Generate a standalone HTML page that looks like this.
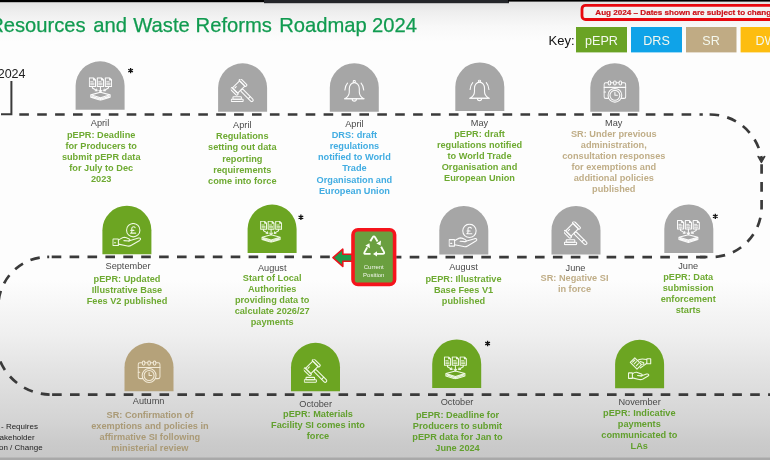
<!DOCTYPE html>
<html><head><meta charset="utf-8">
<style>
html,body{margin:0;padding:0;width:770px;height:460px;overflow:hidden;}
body{background:linear-gradient(180deg,#e2e2e2 2px,#eeeeee 12px,#f8f8f8 26px,#fdfdfd 42px,#fdfdfd 280px,#f8f8f8 300px,#efefef 335px,#e3e3e3 370px,#d4d4d4 420px,#cacaca 445px,#c8c8c8 457px);}
svg{color:#fbfbfb;position:absolute;left:0;top:0;will-change:transform;}
text{font-family:"Liberation Sans",sans-serif;}
.m{font-size:9.2px;fill:#4a4a4a;text-anchor:middle;}
.g{font-size:9.2px;font-weight:bold;fill:#6eaa32;text-anchor:middle;}
.b{font-size:9.2px;font-weight:bold;fill:#42ade2;text-anchor:middle;}
.t{font-size:9.2px;font-weight:bold;fill:#c0ae88;text-anchor:middle;}
.g3{font-size:9.2px;font-weight:bold;fill:#62a02e;text-anchor:middle;}
.t3{font-size:9.2px;font-weight:bold;fill:#aa9a76;text-anchor:middle;}
.ic{fill:none;stroke:currentColor;stroke-width:1.1;stroke-linecap:round;stroke-linejoin:round;}
</style></head>
<body>
<svg width="770" height="460" viewBox="0 0 770 460">
<defs>
  <!-- documents into tray -->
  <symbol id="docs" viewBox="0 0 23.5 23.5">
    <g class="ic">
      <path d="M0.5,0.5h4.3l2,2v6.6h-6.3z M4.8,0.5v2h2"/>
      <path d="M8.6,0.5h4.3l2,2v6.6h-6.3z M12.9,0.5v2h2"/>
      <path d="M16.7,0.5h4.3l2,2v6.6h-6.3z M21,0.5v2h2"/>
      <path d="M1.9,4.4h2.4M1.9,5.9h3.4M1.9,7.4h3.4M10,4.4h2.4M10,5.9h3.4M10,7.4h3.4M18.1,4.4h2.4M18.1,5.9h3.4M18.1,7.4h3.4" stroke-width="0.9"/>
      <path d="M3.6,9.1v1.5l4.4,2.6M11.75,9.1v5.4M19.8,9.1v1.5l-4.4,2.6"/>
      <path d="M6.4,13.4l1.9,0.1l-0.4,-1.8M10.3,13.2l1.45,1.6l1.45,-1.6M17,13.4l-1.9,0.1l0.4,-1.8"/>
      <path d="M2,17.6l9.75,-2.6l9.75,2.6l-9.75,3z M2,17.6v2.4l9.75,3.1l9.75,-3.1v-2.4 M11.75,20.6v2.5 M3.2,19.2l8.55,2.6l8.55,-2.6"/>
    </g>
  </symbol>
  <!-- gavel -->
  <symbol id="gavel" viewBox="0 0 24 24">
    <g class="ic">
      <g transform="rotate(-45 8 8.2)">
        <rect x="2.6" y="4.4" width="10.8" height="7.6" rx="0.6"/>
        <rect x="0.4" y="3.4" width="2.6" height="9.6" rx="1"/>
        <rect x="13" y="3.4" width="2.6" height="9.6" rx="1"/>
        <path d="M4.6,6.2h2"/>
        <rect x="6.5" y="12" width="3" height="16.6" rx="1.5"/>
        <path d="M6.5,23.6h3"/>
      </g>
      <rect x="2.2" y="18.2" width="8.6" height="2.4" rx="0.6"/>
      <rect x="0.4" y="20.6" width="12.2" height="2.4" rx="0.6"/>
    </g>
  </symbol>
  <!-- bell -->
  <symbol id="bell" viewBox="0 0 24 24">
    <g class="ic">
      <circle cx="12" cy="1.5" r="1.05"/>
      <path d="M2.6,18.8C4.6,17.6 7,15.5 7,12V8.6C7,5.2 9.2,2.6 12,2.6C14.8,2.6 17,5.2 17,8.6V12C17,15.5 19.4,17.6 21.4,18.8Z"/>
      <path d="M2.2,18.8H21.8"/>
      <path d="M9.9,19A2.1,2.1 0 0 0 14.1,19"/>
      <path d="M5.2,3.2Q3,5.6 2.6,10"/>
      <path d="M18.8,3.2Q21,5.6 21.4,10"/>
    </g>
  </symbol>
  <!-- calendar with clock -->
  <symbol id="cal" viewBox="0 0 24 24">
    <g class="ic">
      <path d="M5,2.6H2.6Q0.8,2.6 0.8,4.4V17Q0.8,18.8 2.6,18.8H5.4M18.6,18.8H21.4Q23.2,18.8 23.2,17V4.4Q23.2,2.6 21.4,2.6H19.4"/>
      <path d="M0.8,7.4H23.2"/>
      <ellipse cx="6.4" cy="2.8" rx="1.4" ry="2.2"/>
      <ellipse cx="12" cy="2.8" rx="1.4" ry="2.2"/>
      <ellipse cx="17.6" cy="2.8" rx="1.4" ry="2.2"/>
      <path d="M7.8,2.6H10.6M13.4,2.6H16.2"/>
      <circle cx="12" cy="15.6" r="7.1"/>
      <circle cx="12" cy="15.6" r="5.1"/>
      <path d="M12,12.6V15.6H14.6"/>
      <path d="M0.8,12.2H2.4"/>
    </g>
  </symbol>
  <!-- hand with pound coin -->
  <symbol id="coin" viewBox="0 0 30 25">
    <g class="ic">
      <circle cx="21.3" cy="7.4" r="6.8"/>
      <path d="M23.2,4.8C22.8,3.6 20.4,3.4 19.9,5C19.6,6 20,7.2 20,8.2C20,9.2 19.4,10 18.6,10.4H23.8M18.8,7.6H22"/>
      <rect x="0.6" y="16.4" width="5.6" height="6.6" rx="0.4"/>
      <path d="M2.2,20.2h1.2"/>
      <path d="M6.2,17.6C8.5,16.2 10.2,14.6 12.2,14.6C14,14.8 16,15.8 17.2,16.4C18.6,17.2 18,18.6 16.6,18.4L11.8,18"/>
      <path d="M16.6,18.4L26.6,15.4C28.8,14.9 29.6,16.6 27.8,17.8L19.4,22.8C17.8,23.8 16,23.8 14.2,23.2L6.2,21.6"/>
    </g>
  </symbol>
  <!-- hands exchanging note -->
  <symbol id="hands" viewBox="0 0 24 24">
    <g class="ic">
      <path d="M2.3,5.4L6.8,0.9L13.5,7.6L9,12.1Z"/>
      <path d="M4.6,5.2L6.8,3M6.2,6.8L8.4,4.6M8.2,8.8L10.4,6.6"/>
      <rect x="18.8" y="1.8" width="3.9" height="4.9" rx="0.3"/>
      <path d="M18.8,2.5C16.4,2 13.6,1.6 11.4,2.4L9.4,3.4M12.2,4.4L15.2,5.6C16.4,6.2 15.8,7.4 14.6,7.2"/>
      <path d="M18.8,6.2L15.6,8.6L12.2,11"/>
      <rect x="0.5" y="15.9" width="3.9" height="5.5" rx="0.3"/>
      <path d="M4.4,16.8C6,15.6 7.2,15 8.6,15.3L13.4,17.1C14.8,17.7 14.4,19.1 13,18.9L9.6,18.5"/>
      <path d="M13,18.9L18.6,17.1C20.6,16.5 21.5,18 20.1,19.1L15,22C13.5,22.8 11.6,22.8 10,22.3L4.4,20.9"/>
    </g>
  </symbol>
  <!-- tombstone -->
  <path id="ts" d="M0,48.5V24.5A24.5,24.5 0 0 1 49,24.5V48.5Z"/>
</defs>

<!-- top bars -->
<rect x="0" y="0" width="265" height="2.2" fill="#000"/>
<rect x="264" y="0" width="245" height="3.2" fill="#232529"/>
<rect x="508" y="0" width="262" height="1.6" fill="#000"/>
<rect x="0" y="457.5" width="770" height="2.5" fill="#a9a9a9"/>

<!-- title -->
<g style="font-size:20.2px;fill:#119b50;stroke:#119b50;stroke-width:0.25">
<text x="-10.8" y="31.9">Resources</text><text x="93.2" y="31.9">and</text><text x="133.3" y="31.9">Waste</text><text x="195.6" y="31.9">Reforms</text><text x="279.2" y="31.9">Roadmap</text><text x="372" y="31.9">2024</text>
</g>

<!-- red notice box -->
<rect x="582" y="5.3" width="200" height="14.2" rx="3.6" fill="#f3f3f3" stroke="#e8080f" stroke-width="2.8"/>
<text x="595.3" y="15.3" style="font-size:8.1px;font-weight:bold;fill:#cc1018;stroke:#cc1018;stroke-width:0.2">Aug 2024 – Dates shown are subject to change</text>

<!-- key -->
<text x="548.6" y="45.2" style="font-size:13px;fill:#111">Key:</text>
<rect x="576" y="27" width="51" height="25.4" fill="#6aa324"/>
<rect x="631" y="27" width="51" height="25.4" fill="#0fa3e8"/>
<rect x="686" y="27" width="50.5" height="25.4" fill="#c0ab84"/>
<rect x="740.6" y="27" width="51" height="25.4" fill="#fdbd10"/>
<g style="font-size:12.6px;fill:#f4f8ee;text-anchor:middle">
<text x="601.5" y="44.8">pEPR</text>
<text x="656.5" y="44.8">DRS</text>
<text x="711" y="44.8">SR</text>
<text x="766" y="44.8">DW</text>
</g>

<!-- 2024 left marker -->
<text x="25.5" y="77.5" style="font-size:12.5px;fill:#222;text-anchor:end">2024</text>
<path d="M11.4,81V114.3H1" fill="none" stroke="#3a3a3a" stroke-width="2"/>

<!-- dashed path -->
<g fill="none" stroke="#3a3a3a" stroke-width="2.7" stroke-dasharray="9.6 8.3">
  <path d="M19.3,114.5H702.8"/>
  <path d="M709.6,114.5H710A52,52 0 0 1 761.4,158"/>
  <path d="M761.6,164.2V206.8A50.2,50.2 0 0 1 711.4,257H700"/>
  <path d="M396.2,257.1H706" stroke-dashoffset="4.4"/>
  <path d="M51.7,256.8H330.3"/>
  <path d="M47.9,256.9A49.6,49.6 0 0 0 -1.7,306.6L-4.3,339.6A55.2,55.2 0 0 0 49.6,394.6" stroke-dashoffset="9.7"/>
  <path d="M47.2,256.9H49.2" stroke-dasharray="none"/>
  <path d="M52.1,394.6H772"/>
</g>
<path d="M757.9,156.4L761.4,162.6L764.9,156.4L761.4,158.2Z" fill="#3a3a3a" stroke="#3a3a3a" stroke-width="1.2" stroke-linejoin="round"/>

<!-- Row 1 tombstones -->
<use href="#ts" x="75.6" y="61.3" fill="#a6a6a6"/>
<use href="#ts" x="218.1" y="63.3" fill="#a6a6a6"/>
<use href="#ts" x="329.8" y="63.2" fill="#a6a6a6"/>
<use href="#ts" x="455.3" y="62.5" fill="#a6a6a6"/>
<use href="#ts" x="590.3" y="63.2" fill="#a6a6a6"/>
<use href="#docs" x="88.8" y="77.3" width="23.3" height="23.5"/>
<use href="#gavel" x="230.8" y="79" width="23.5" height="23.5"/>
<use href="#bell" x="342.3" y="80" width="24" height="24"/>
<use href="#bell" x="467.5" y="79.5" width="24" height="24"/>
<use href="#cal" x="603.3" y="80.2" width="23.2" height="23.2"/>
<path d="M130.6,67.89999999999999V73.3M128.25,69.25L132.95,71.94999999999999M128.25,71.94999999999999L132.95,69.25" stroke="#111" stroke-width="1.3" fill="none"/>

<!-- Row 1 text -->
<text class="m" x="100" y="126.2">April</text>
<text class="g"><tspan x="101.2" y="138.20">pEPR: Deadline</tspan><tspan x="101.2" y="149.15">for Producers to</tspan><tspan x="101.2" y="160.10">submit pEPR data</tspan><tspan x="101.2" y="171.05">for July to Dec</tspan><tspan x="101.2" y="182.00">2023</tspan></text>
<text class="m" x="242.3" y="128">April</text>
<text class="g"><tspan x="242.3" y="139.30">Regulations</tspan><tspan x="242.3" y="150.40">setting out data</tspan><tspan x="242.3" y="161.50">reporting</tspan><tspan x="242.3" y="172.60">requirements</tspan><tspan x="242.3" y="183.70">come into force</tspan></text>
<text class="m" x="354.4" y="126.9">April</text>
<text class="b"><tspan x="354.4" y="138.00">DRS: draft</tspan><tspan x="354.4" y="149.15">regulations</tspan><tspan x="354.4" y="160.30">notified to World</tspan><tspan x="354.4" y="171.45">Trade</tspan><tspan x="354.4" y="182.60">Organisation and</tspan><tspan x="354.4" y="193.75">European Union</tspan></text>
<text class="m" x="479.5" y="126.3">May</text>
<text class="g"><tspan x="479.5" y="137.30">pEPR: draft</tspan><tspan x="479.5" y="148.30">regulations notified</tspan><tspan x="479.5" y="159.30">to World Trade</tspan><tspan x="479.5" y="170.30">Organisation and</tspan><tspan x="479.5" y="181.30">European Union</tspan></text>
<text class="m" x="613.8" y="125.8">May</text>
<text class="t"><tspan x="613.8" y="136.90">SR: Under previous</tspan><tspan x="613.8" y="147.95">administration,</tspan><tspan x="613.8" y="159.00">consultation responses</tspan><tspan x="613.8" y="170.05">for exemptions and</tspan><tspan x="613.8" y="181.10">additional policies</tspan><tspan x="613.8" y="192.15">published</tspan></text>
<!-- Row 2 tombstones -->
<use href="#ts" x="102.4" y="205.7" fill="#6ca522"/>
<use href="#ts" x="247.6" y="204.6" fill="#6ca522"/>
<use href="#ts" x="439.3" y="206" fill="#a6a6a6"/>
<use href="#ts" x="551.5" y="205.9" fill="#a6a6a6"/>
<use href="#ts" x="664.3" y="204.4" fill="#a6a6a6"/>
<use style="color:#eef8e2" href="#coin" x="112.3" y="222.9" width="29.5" height="24.6"/>
<use style="color:#eef8e2" href="#docs" x="259.7" y="220.9" width="22.8" height="21.8"/>
<use href="#coin" x="448.5" y="223.5" width="29.5" height="24.6"/>
<use href="#gavel" x="564" y="221.6" width="24" height="24"/>
<use href="#docs" x="676.8" y="220.1" width="23.2" height="22.8"/>
<path d="M300.9,214.60000000000002V220.0M298.54999999999995,215.95000000000002L303.25,218.65M298.54999999999995,218.65L303.25,215.95000000000002" stroke="#111" stroke-width="1.3" fill="none"/>
<path d="M715.3,213.70000000000002V219.1M712.9499999999999,215.05L717.65,217.75M712.9499999999999,217.75L717.65,215.05" stroke="#111" stroke-width="1.3" fill="none"/>

<!-- current position -->
<path d="M333,257.6L342.8,249.2V254.2H353V261.2H342.8V266.4Z" fill="#1f9a4a" stroke="#e8141c" stroke-width="1.6" stroke-linejoin="round"/>
<rect x="353" y="229.8" width="41.6" height="54.6" rx="5" fill="#6a9f3f" stroke="#f5141c" stroke-width="3.6"/>
<g fill="none" stroke="#fbfff6" stroke-width="1.9" stroke-linejoin="round">
  <path d="M370.3,241.3L372.6,237.4Q373.9,235.4 375.2,237.4L377.6,241.4"/>
  <path d="M370.6,253.9H365.6Q363.6,253.9 364.6,252.1L367.2,247.4"/>
  <path d="M381.1,246.8L383.8,251.6Q385,253.9 382.6,253.9H376.6"/>
</g>
<g fill="#fbfff6">
  <path d="M380.6,245.6L381,240.6L376.4,243.4Z"/>
  <path d="M369.4,243.2L370,248.2L365.4,245.6Z"/>
  <path d="M373,253.9L377,251.2V256.6Z"/>
</g>
<g style="font-size:6px;fill:#f2f7ee;text-anchor:middle">
<text x="373.8" y="268.8">Current</text>
<text x="373.8" y="277">Position</text>
</g>

<!-- Row 2 text -->
<text class="m" x="128" y="269">September</text>
<text class="g"><tspan x="127" y="281.90">pEPR: Updated</tspan><tspan x="127" y="292.80">Illustrative Base</tspan><tspan x="127" y="303.70">Fees V2 published</tspan></text>
<text class="m" x="272.2" y="271">August</text>
<text class="g"><tspan x="272.2" y="281.30">Start of Local</tspan><tspan x="272.2" y="292.30">Authorities</tspan><tspan x="272.2" y="303.30">providing data to</tspan><tspan x="272.2" y="314.30">calculate 2026/27</tspan><tspan x="272.2" y="325.30">payments</tspan></text>
<text class="m" x="463.5" y="269.6">August</text>
<text class="g"><tspan x="463.5" y="282.40">pEPR: Illustrative</tspan><tspan x="463.5" y="293.35">Base Fees V1</tspan><tspan x="463.5" y="304.30">published</tspan></text>
<text class="m" x="575.5" y="270.6">June</text>
<text class="t"><tspan x="574.5" y="281.00">SR: Negative SI</tspan><tspan x="574.5" y="291.90">in force</tspan></text>
<text class="m" x="688.2" y="268.5">June</text>
<text class="g"><tspan x="688.2" y="279.70">pEPR: Data</tspan><tspan x="688.2" y="290.70">submission</tspan><tspan x="688.2" y="301.70">enforcement</tspan><tspan x="688.2" y="312.70">starts</tspan></text>
<!-- Row 3 tombstones -->
<use href="#ts" x="124.5" y="342.8" fill="#b5a27a"/>
<use href="#ts" x="291" y="342.8" fill="#6ca522"/>
<use href="#ts" x="432.2" y="339.5" fill="#6ca522"/>
<use href="#ts" x="615.1" y="339.8" fill="#6ca522"/>
<use style="color:#f1e9d6" href="#cal" x="137.4" y="360.3" width="23.4" height="23.4"/>
<use style="color:#eef8e2" href="#gavel" x="303.8" y="359.2" width="24" height="24"/>
<use style="color:#eef8e2" href="#docs" x="443.8" y="356.4" width="23.2" height="22.9"/>
<use style="color:#eef8e2" href="#hands" x="628" y="357" width="24" height="24"/>
<path d="M487.6,340.8V346.2M485.25,342.15L489.95000000000005,344.85M485.25,344.85L489.95000000000005,342.15" stroke="#111" stroke-width="1.3" fill="none"/>

<!-- Row 3 text -->
<text class="m" x="148.6" y="404.1">Autumn</text>
<text class="t3"><tspan x="149.9" y="417.70">SR: Confirmation of</tspan><tspan x="149.9" y="428.65">exemptions and policies in</tspan><tspan x="149.9" y="439.60">affirmative SI following</tspan><tspan x="149.9" y="450.55">ministerial review</tspan></text>
<text class="m" x="315.7" y="406.7">October</text>
<text class="g3"><tspan x="318" y="416.80">pEPR: Materials</tspan><tspan x="318" y="428.05">Facility SI comes into</tspan><tspan x="318" y="439.30">force</tspan></text>
<text class="m" x="457" y="405.1">October</text>
<text class="g3"><tspan x="457.5" y="417.60">pEPR: Deadline for</tspan><tspan x="457.5" y="428.67">Producers to submit</tspan><tspan x="457.5" y="439.74">pEPR data for Jan to</tspan><tspan x="457.5" y="450.81">June 2024</tspan></text>
<text class="m" x="639.6" y="405.1">November</text>
<text class="g3"><tspan x="639.3" y="415.80">pEPR: Indicative</tspan><tspan x="639.3" y="426.85">payments</tspan><tspan x="639.3" y="437.90">communicated to</tspan><tspan x="639.3" y="448.95">LAs</tspan></text>
<!-- bottom-left note -->
<g style="font-size:8px;fill:#222">
<text x="1" y="428.9">- Requires</text>
<text x="-0.5" y="439.7">akeholder</text>
<text x="-1" y="450.2">on / Change</text>
</g>
</svg>
</body></html>
